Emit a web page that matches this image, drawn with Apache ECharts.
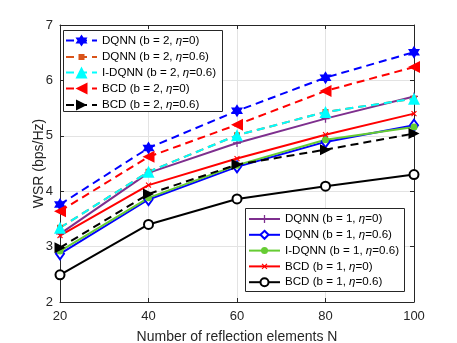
<!DOCTYPE html>
<html>
<head>
<meta charset="utf-8">
<script src="https://cdn.jsdelivr.net/npm/echarts@6/dist/echarts.min.js"></script>
<style>html,body{margin:0;padding:0;background:#fff}#c{width:457px;height:343px}</style>
</head>
<body>
<div id="c"></div>
<script>
const xCats = [20, 40, 60, 80, 100];
const yTicks = [2, 3, 4, 5, 6, 7];

const dqnnB2E0   = [3.76, 4.78, 5.45, 6.05, 6.51];
const dqnnB2E06  = [3.34, 4.35, 5.01, 5.43, 5.67];
const idqnnB2E06 = [3.34, 4.35, 5.01, 5.43, 5.67];
const bcdB2E0    = [3.64, 4.62, 5.20, 5.81, 6.24];
const bcdB2E06   = [2.98, 3.95, 4.48, 4.75, 5.04];

const dqnnB1E0   = [3.23, 4.33, 4.87, 5.31, 5.71];
const dqnnB1E06  = [2.87, 3.85, 4.44, 4.89, 5.19];
const idqnnB1E06 = [2.92, 3.88, 4.47, 4.93, 5.16];
const bcdB1E0    = [3.20, 4.11, 4.59, 5.02, 5.40];
const bcdB1E06   = [2.49, 3.40, 3.86, 4.09, 4.30];

const FONT = 'Liberation Sans, Arial, Helvetica, sans-serif';
const STAR = 'path://M50,0L64.4,25L93.3,25L78.9,50L93.3,75L64.4,75L50,100L35.6,75L6.7,75L21.1,50L6.7,25L35.6,25Z';
const PLUS = 'path://M4.2,0H5.8V4.2H10V5.8H5.8V10H4.2V5.8H0V4.2H4.2Z';

function pts(arr){ return xCats.map((x,i)=>[x, arr[i]]); }

function mk(name, data, color, dashed, symbol, size, opts){
  opts = opts || {};
  return {
    name: name, type: 'line', data: pts(data),
    symbol: symbol, symbolSize: size, showSymbol: true,
    lineStyle: {color: color, width: 2, type: dashed ? [8,5] : 'solid'},
    itemStyle: Object.assign({color: color}, opts.item || {}),
    symbolRotate: opts.rot || 0,
    animation: false, z: 2
  };
}

const N = {
  a1:'DQNN (b = 2, η=0)', a2:'DQNN (b = 2, η=0.6)', a3:'I-DQNN (b = 2, η=0.6)', a4:'BCD (b = 2, η=0)', a5:'BCD (b = 2, η=0.6)',
  b1:'DQNN (b = 1, η=0)', b2:'DQNN (b = 1, η=0.6)', b3:'I-DQNN (b = 1, η=0.6)', b4:'BCD (b = 1, η=0)', b5:'BCD (b = 1, η=0.6)'
};

const series = [
  mk(N.b1, dqnnB1E0, '#7E2F8E', false, PLUS, 8),
  mk(N.b2, dqnnB1E06, '#0000FF', false, 'emptyDiamond', [8,11], {item:{borderWidth:2}}),
  mk(N.b3, idqnnB1E06, '#66CC33', false, 'circle', 7),
  mk(N.b4, bcdB1E0, '#FF0000', false, PLUS, 7, {rot:45}),
  mk(N.b5, bcdB1E06, '#000000', false, 'emptyCircle', 9, {item:{borderWidth:2}}),
  mk(N.a1, dqnnB2E0, '#0000FF', true, STAR, [12,13]),
  mk(N.a2, dqnnB2E06, '#D95319', true, 'rect', 6),
  mk(N.a3, idqnnB2E06, '#00FFFF', true, 'triangle', 12),
  mk(N.a4, bcdB2E0, '#FF0000', true, 'triangle', 12, {rot:90}),
  mk(N.a5, bcdB2E06, '#000000', true, 'triangle', 11, {rot:-90})
];

// one legend per entry so each icon keeps its own marker size
const TEXT_H = 14;
function leg(name, left, cy, symSize){
  const ih = symSize / 0.8;
  const h = Math.max(ih, TEXT_H);
  return {
    orient: 'vertical', selectedMode: false, z: 6,
    left: left, top: cy - h / 2, padding: 0,
    itemWidth: 31, itemHeight: ih, itemGap: 0,
    textStyle: {fontFamily: FONT, fontSize: 11.6, color: '#000', lineHeight: TEXT_H,
      rich: {i: {fontFamily: FONT, fontSize: 11.6, fontStyle: 'italic', color: '#000', lineHeight: TEXT_H}}},
    formatter: n => n.replace('η', '{i|η}'),
    data: [name]
  };
}
const legSizes1 = [12, 6, 12, 12, 11];
const legSizes2 = [8, 8, 7, 7, 8];
const legNames1 = [N.a1, N.a2, N.a3, N.a4, N.a5];
const legNames2 = [N.b1, N.b2, N.b3, N.b4, N.b5];
const legends = [];
legNames1.forEach((n,i)=>legends.push(leg(n, 65, 41 + 16*i, legSizes1[i])));
legNames2.forEach((n,i)=>legends.push(leg(n, 248, 219 + 15.8*i, legSizes2[i])));

const axisCommon = {
  axisLine: {show: true, lineStyle: {color: '#262626', width: 1}},
  axisTick: {show: true, inside: true, length: 4, lineStyle: {color: '#262626'}},
};

const chart = echarts.init(document.getElementById('c'), null, {renderer: 'canvas'});
chart.setOption({
  backgroundColor: '#fff',
  animation: false,
  grid: {left: 60, right: 43, top: 25, bottom: 41, containLabel: false, outerBoundsMode: 'none'},
  graphic: [
    {type: 'rect', z: 5, shape: {x: 63.5, y: 30.5, width: 159, height: 81},
     style: {fill: '#fff', stroke: '#262626', lineWidth: 1}},
    {type: 'rect', z: 5, shape: {x: 245.5, y: 208.5, width: 159, height: 83},
     style: {fill: '#fff', stroke: '#262626', lineWidth: 1}}
  ],
  legend: legends,
  xAxis: [
    Object.assign({
      type: 'value', min: xCats[0], max: xCats[xCats.length-1], interval: 20, position: 'bottom',
      name: 'Number of reflection elements N', nameLocation: 'middle', nameGap: 28, nameMoveOverlap: false,
      nameTextStyle: {fontFamily: FONT, fontSize: 14, color: '#262626'},
      axisLabel: {fontFamily: FONT, fontSize: 13, color: '#262626', margin: 8},
      splitLine: {show: true, lineStyle: {color: '#e3e3e3', width: 1}}
    }, axisCommon),
    Object.assign({
      type: 'value', min: xCats[0], max: xCats[xCats.length-1], interval: 20, position: 'top',
      axisLabel: {show: false}, splitLine: {show: false}
    }, axisCommon)
  ],
  yAxis: [
    Object.assign({
      type: 'value', min: yTicks[0], max: yTicks[yTicks.length-1], interval: 1, position: 'left',
      name: 'WSR (bps/Hz)', nameLocation: 'middle', nameGap: 14, nameMoveOverlap: false,
      nameTextStyle: {fontFamily: FONT, fontSize: 14, color: '#262626'},
      axisLabel: {fontFamily: FONT, fontSize: 13, color: '#262626', margin: 7},
      splitLine: {show: true, lineStyle: {color: '#e3e3e3', width: 1}}
    }, axisCommon),
    Object.assign({
      type: 'value', min: yTicks[0], max: yTicks[yTicks.length-1], interval: 1, position: 'right',
      axisLabel: {show: false}, splitLine: {show: false}
    }, axisCommon)
  ],
  series: series
});
</script>
</body>
</html>
